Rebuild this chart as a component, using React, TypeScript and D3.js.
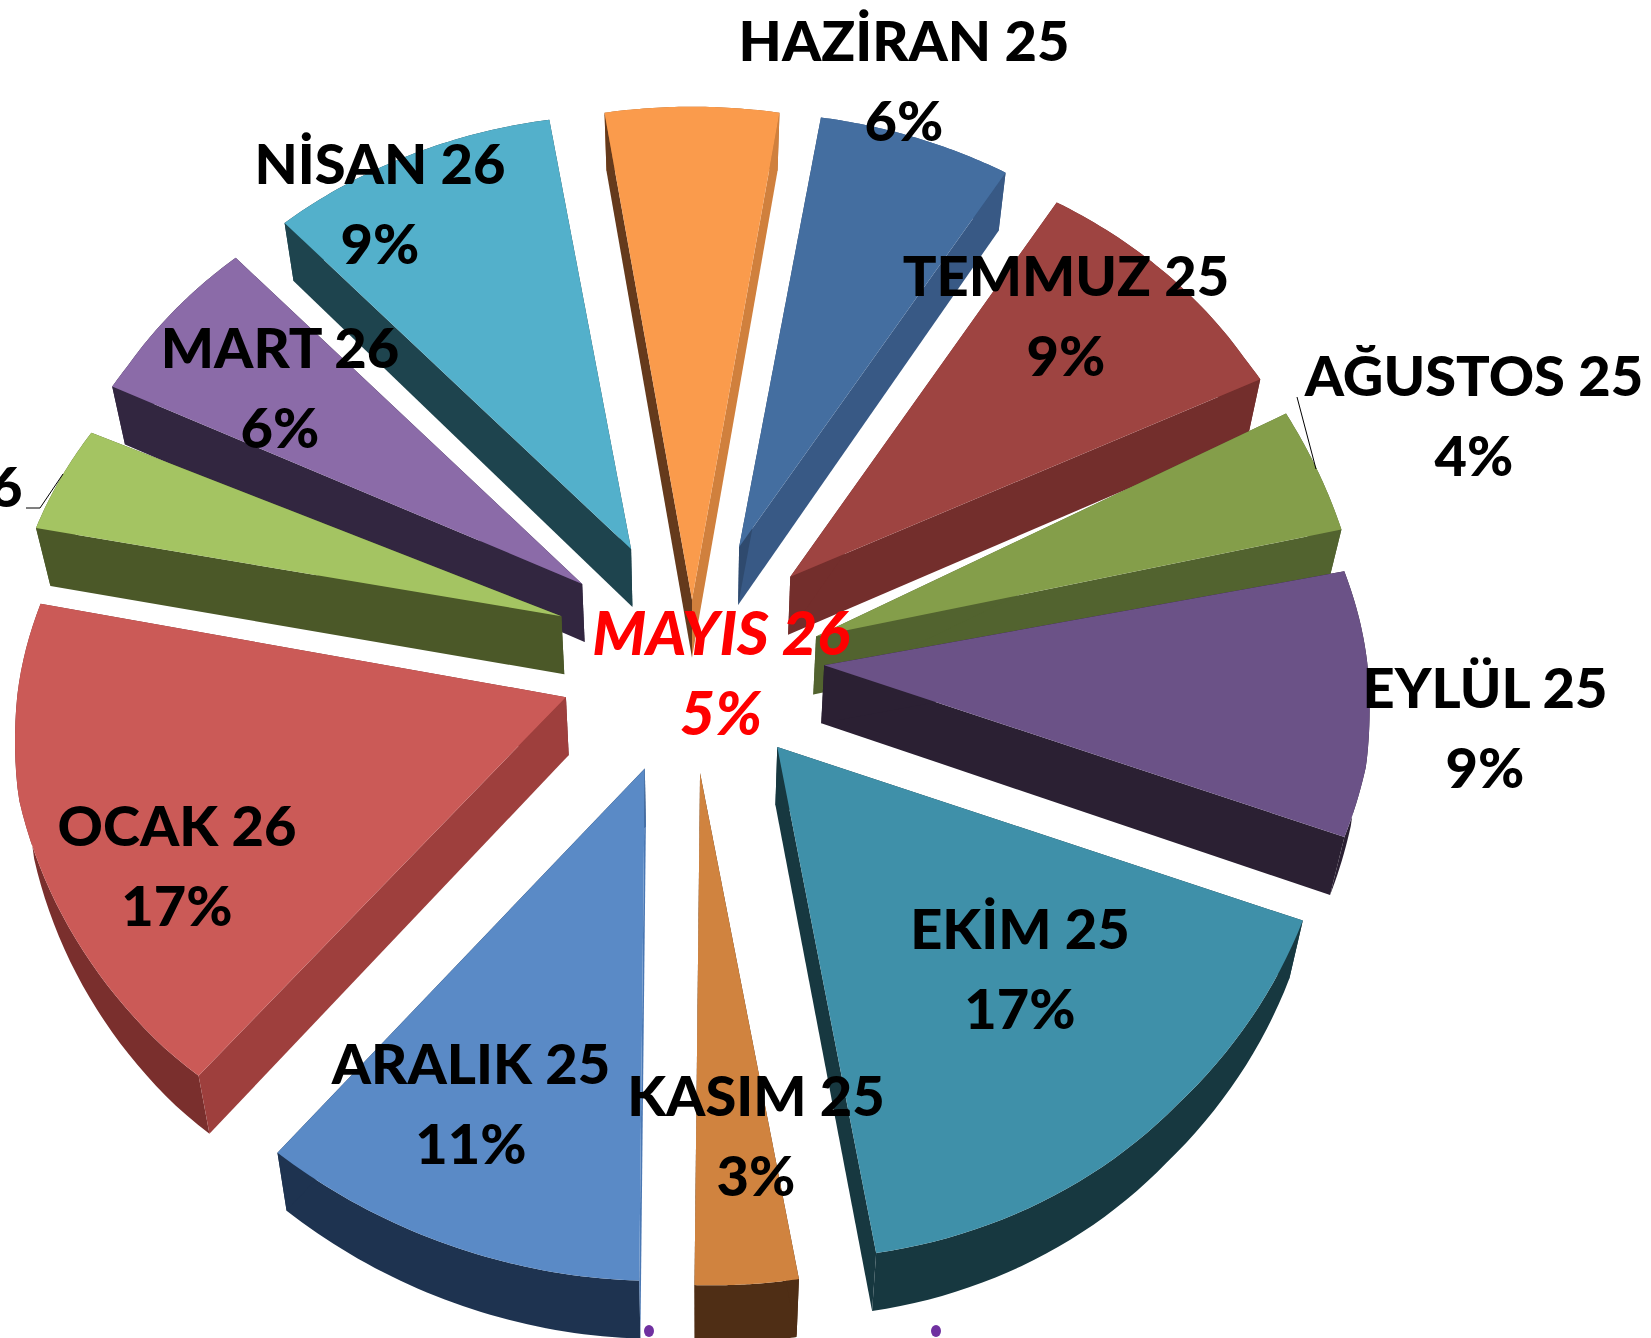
import React from "react";
import * as d3 from "d3";

const months = ["MAYIS 26","HAZİRAN 25","TEMMUZ 25","AĞUSTOS 25","EYLÜL 25","EKİM 25","KASIM 25","ARALIK 25","OCAK 26","ŞUBAT 26","MART 26","NİSAN 26"];
const shares = [5,6,9,4,9,17,3,11,17,4,6,9];

// Excel-style point explosion (distance and heading) for each slice
const explosion = [99,168,160,136,134,113,105,110,127,153,161,170];
const explosionHeading = [0,16.3,37.9,65.8,80.5,131,175.6,205.4,263,301.4,317,339];
const reach = [1.07,1,1,1,0.99,1,1,1,1,1,1,1];
const tiltAdjust = [1.06,1,1,1.13,1,1,1,1,0.985,0.93,1,1];
const topColors = ["#FA9B4C","#446EA0","#9E4441","#849E4A","#6B5287","#3F90A9","#D0833F","#5A8AC6","#CB5A57","#A4C462","#8B6BA8","#53B0CB"];
const startWallColors = ["#653A1C","#2F4A6E","#732E2C","#52632F","#2B2033","#173840","#4F2E15","#4A78B4","#9E3F3D","#4B5828","#322640","#1E444E"];
const endWallColors = ["#D0803D","#385985","#732E2C","#52632F","#2B2033","#173840","#4F2E15","#1E3350","#7A2F2D","#4B5828","#322640","#1E444E"];
const outerWallColors = ["#B06A30","#385985","#732E2C","#52632F","#2B2033","#173840","#4F2E15","#1E3350","#7A2F2D","#4B5828","#322640","#1E444E"];
const labelX = [721,904,1066,1474,1485,1020,756,471,177,-105,280,380];
const labelY = [655,61,296,396,708,949,1116,1084,846,507,368,184];

const W = 1651, H = 1338;
const CX = 692, CY = 684, R = 553, TILT = 0.85, BACK = 0.925, FRONT = 1.09, DEPTH = 58, SHRINK = 0.022;
const LINE = 80;
const FIRST = (-9 * Math.PI) / 180;

const pie = d3.pie<number>().sort(null).startAngle(FIRST).endAngle(FIRST + 2 * Math.PI);
const arcs = pie(shares);
const line = d3.line<[number, number]>().curve(d3.curveLinearClosed);
const xStretch = d3.scaleLinear().domain([-1, -0.2, 0.2, 0.5, 1]).range([1.01, 1.01, 0.975, 0.95, 0.945]);
const frontShift = d3.scaleLinear().domain([-1, -0.7]).range([12, 0]).clamp(true);

function top(i: number, a: number, t: number): [number, number] {
  const h = (explosionHeading[i] * Math.PI) / 180;
  const ex = explosion[i];
  const r = R * t * reach[i];
  const c = Math.cos(a);
  const px = ex * Math.sin(h) + r * Math.sin(a) * xStretch(c) + t * frontShift(c);
  const py = -ex * Math.cos(h) * TILT - r * c * TILT * (c > 0 ? BACK : FRONT) * tiltAdjust[i];
  return [CX + px, CY + py];
}
const drop = ([x, y]: [number, number]): [number, number] => [x - (x - CX) * SHRINK, y + DEPTH];

export default function App() {
  const order = d3.range(months.length).sort((a, b) => {
    const ma = (arcs[a].startAngle + arcs[a].endAngle) / 2;
    const mb = (arcs[b].startAngle + arcs[b].endAngle) / 2;
    return Math.cos(mb) - Math.cos(ma);
  });
  return (
    <svg width={W} height={H} viewBox={`0 0 ${W} ${H}`} style={{ position: "absolute", left: 0, top: 0, display: "block", background: "#fff" }}>
      {order.map((i) => {
        const { startAngle: a0, endAngle: a1 } = arcs[i];
        const rim = d3.range(0, 41).map((k) => top(i, a0 + ((a1 - a0) * k) / 40, 1));
        const apex = top(i, a0, 0);
        const face = [apex, ...rim];
        const outer = [...rim, ...rim.slice().reverse().map(drop)];
        const w0 = [apex, rim[0], drop(rim[0]), drop(apex)];
        const w1 = [apex, rim[40], drop(rim[40]), drop(apex)];
        return (
          <g key={months[i]}>
            <path d={line(outer)!} fill={outerWallColors[i]} />
            <path d={line(w1)!} fill={endWallColors[i]} />
            <path d={line(w0)!} fill={startWallColors[i]} />
            <path d={line(face)!} fill={topColors[i]} />
          </g>
        );
      })}
      <path d="M1297 397L1316 469" stroke="#000" fill="none" strokeWidth={1} />
      <path d="M63 474L40 508L26 508" stroke="#000" fill="none" strokeWidth={1} />
      <ellipse cx={649} cy={1331} rx={5} ry={6} fill="#7030A0" />
      <ellipse cx={936} cy={1331} rx={5} ry={6} fill="#7030A0" />
      {months.map((m, i) => {
        const red = i === 0;
        return (
          <text key={m} textAnchor="middle" fontFamily="Lato, 'Open Sans', sans-serif" fontWeight={900} fontSize={red ? 61 : 56}
            fontStyle={red ? "italic" : "normal"} fill={red ? "#FF0000" : "#000"}>
            <tspan x={labelX[i]} y={labelY[i]}>{m}</tspan>
            <tspan x={labelX[i]} y={labelY[i] + LINE}>{shares[i]}%</tspan>
          </text>
        );
      })}
    </svg>
  );
}
